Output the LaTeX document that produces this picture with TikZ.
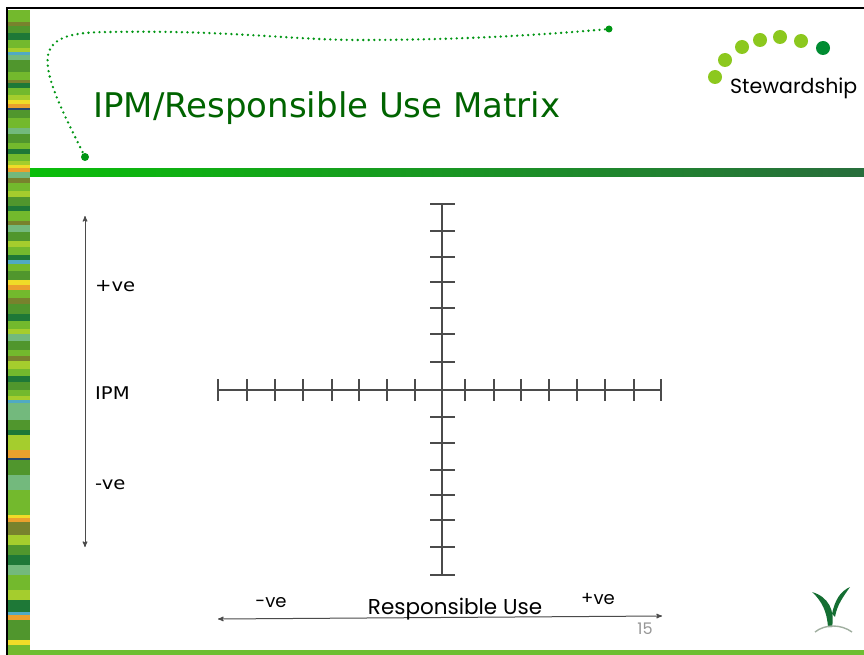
\documentclass[tikz,border=0pt]{standalone}
\usepackage{fontspec}
\setmainfont{DejaVu Sans}
\newfontfamily\geofont{Poppins}
\newfontfamily\widefont[FakeStretch=1.12]{DejaVu Sans}
\usepackage{tikz}
\usetikzlibrary{arrows}

\definecolor{titlegreen}{RGB}{0,100,0}
\definecolor{trailgreen}{RGB}{0,150,20}
\definecolor{logolight}{RGB}{140,200,30}
\definecolor{logodark}{RGB}{0,140,50}
\definecolor{barleft}{RGB}{10,190,10}
\definecolor{barright}{RGB}{40,110,60}
\definecolor{footgreen}{RGB}{110,190,50}
\definecolor{axgray}{RGB}{75,75,75}
\definecolor{pagegray}{RGB}{150,150,150}
\definecolor{sproutgreen}{RGB}{20,110,50}
\definecolor{groundgray}{RGB}{160,175,160}
% stripe colours
\definecolor{sg1}{RGB}{115,185,45}
\definecolor{sg2}{RGB}{80,150,45}
\definecolor{sg3}{RGB}{30,120,55}
\definecolor{sg4}{RGB}{165,205,45}
\definecolor{sg5}{RGB}{240,220,40}
\definecolor{sg6}{RGB}{235,160,45}
\definecolor{sg7}{RGB}{80,170,195}
\definecolor{sg8}{RGB}{120,130,45}
\definecolor{sg9}{RGB}{115,185,125}
\definecolor{sg10}{RGB}{40,70,110}

\tikzset{
  ax_line/.style = {draw=axgray, line width=1.2pt},
  ax_tick/.style = {draw=axgray, line width=1.1pt},
  ax_arrow/.style = {draw=axgray, line width=1pt, <->, >=stealth'},
  lbl_v/.style = {anchor=base west, inner sep=0pt,
    font=\widefont\fontsize{17.5}{20}\selectfont},
  lbl_h/.style = {anchor=base, inner sep=0pt,
    font=\geofont\fontsize{18}{20}\selectfont},
  dot_trail/.style = {draw=trailgreen, line width=2.6pt, line cap=round,
    dash pattern=on 0pt off 5.5pt},
  logo_dot/.style = {circle, fill=logolight, minimum size=14pt, inner sep=0pt}
}

\begin{document}
\begin{tikzpicture}[x=1pt,y=-1pt]
\clip (0,0) rectangle (864,655);
\fill[white] (0,0) rectangle (864,655);

% striped edge
\def\stripey{10}
\foreach \h/\c in {12/sg1,4/sg8,7/sg2,7/sg3,8/sg1,4/sg4,3/sg7,5/sg9,12/sg2,
    8/sg1,3/sg8,5/sg3,7/sg1,5/sg4,4/sg5,4/sg6,2/sg10,8/sg2,10/sg1,6/sg9,
    9/sg2,6/sg1,5/sg3,7/sg1,4/sg4,3/sg5,4/sg6,6/sg9,
    5/sg8,8/sg1,6/sg4,9/sg2,5/sg3,10/sg1,4/sg8,7/sg9,9/sg2,6/sg4,8/sg1,
    5/sg3,4/sg7,7/sg1,9/sg2,5/sg5,5/sg6,8/sg1,6/sg8,10/sg2,7/sg3,8/sg1,
    5/sg4,7/sg9,9/sg2,6/sg1,5/sg8,8/sg4,7/sg1,6/sg3,8/sg2,6/sg1,4/sg4,
    3/sg7,17/sg9,10/sg2,5/sg3,15/sg4,8/sg6,2/sg10,15/sg2,15/sg9,25/sg1,
    3/sg5,4/sg6,13/sg8,10/sg4,10/sg2,10/sg3,10/sg9,15/sg1,10/sg4,12/sg3,
    3/sg7,5/sg6,20/sg2,5/sg5,10/sg1}{
  \fill[\c] (8,\stripey) rectangle ++(22,\h+0.5);
  \pgfmathsetmacro\stripenext{\stripey+\h}
  \xdef\stripey{\stripenext}
}
\draw[black, line width=2pt] (7,655) -- (7,8) -- (864,8);

% header and footer bars
\shade[left color=barleft, right color=barright] (30,169) rectangle (864,177);
\fill[footgreen] (30,650) rectangle (864,655);

% dotted trail
\coordinate (trail_a) at (85,157);
\coordinate (trail_b) at (609,29);
\draw[dot_trail] (trail_a) .. controls (66,118) and (44,78) .. (48,55)
  .. controls (52,36) and (75,32) .. (110,32)
  .. controls (230,30) and (290,40) .. (360,40)
  .. controls (450,40) and (530,36) .. (trail_b);
\fill[trailgreen] (trail_a) circle (4);
\fill[trailgreen] (trail_b) circle (3.5);

\node[anchor=base west, inner sep=0pt, text=titlegreen,
  font=\fontsize{34}{36}\selectfont] (title) at (93,118)
  {IPM/Responsible Use Matrix};

% logo
\foreach \px/\py [count=\i] in {715/77,725/60,742/47,760/40,780/37,801/41}
  \node[logo_dot] (ld\i) at (\px,\py) {};
\node[logo_dot, fill=logodark] (ld7) at (823,48) {};
\node[anchor=base west, inner sep=0pt, font=\geofont\fontsize{20.5}{22}\selectfont]
  (steward) at (730,94) {Stewardship};

% matrix axes
\coordinate (h_l) at (218,390);
\coordinate (h_r) at (661,390);
\coordinate (v_t) at (442,204);
\coordinate (v_b) at (442,576);
\draw[ax_line] (h_l) -- (h_r);
\draw[ax_line] (v_t) -- (v_b);
\foreach \x in {218,247,275,303,332,359,387,415,465,494,521,549,577,605,634,661}
  \draw[ax_tick] (\x,379) -- (\x,401);
\foreach \y in {204,231,257,282,308,334,362,417,443,470,495,520,547,575}
  \draw[ax_tick] (430,\y) -- (455,\y);

% IPM scale
\coordinate (ipm_t) at (85,216);
\coordinate (ipm_b) at (85,547);
\draw[ax_arrow] (ipm_t) -- (ipm_b);
\node[lbl_v] (ipm_pos) at (95,291) {+ve};
\node[lbl_v] (ipm_lbl) at (95,399) {IPM};
\node[lbl_v] (ipm_neg) at (95,489) {-ve};

% responsible use scale
\coordinate (ru_l) at (218,619);
\coordinate (ru_r) at (662,616);
\draw[ax_arrow] (ru_l) -- (ru_r);
\node[lbl_h] (ru_neg) at (271,607) {-ve};
\node[lbl_h, font=\geofont\fontsize{21.5}{22}\selectfont] (ru_lbl) at (455,614)
  {Responsible Use};
\node[lbl_h] (ru_pos) at (598,604) {+ve};
\node[lbl_h, text=pagegray, font=\geofont\fontsize{16}{18}\selectfont]
  (pagenum) at (645,634) {15};

% sprout
\fill[sproutgreen] (832,627) .. controls (835,611) and (829,597) .. (812,592)
  .. controls (822,601) and (827,612) .. (828,627) -- cycle;
\fill[sproutgreen] (832,614) .. controls (835,599) and (841,591) .. (850,587)
  .. controls (843,597) and (837,605) .. (835,617) -- cycle;
\draw[groundgray, line width=1.4pt] (815,632) .. controls (825,624)
  and (841,624) .. (852,632);
\end{tikzpicture}
\end{document}
